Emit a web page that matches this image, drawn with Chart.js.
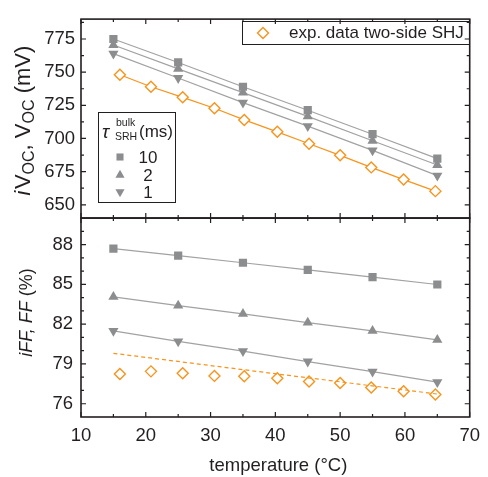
<!DOCTYPE html>
<html>
<head>
<meta charset="utf-8">
<script src="https://cdn.jsdelivr.net/npm/chart.js@4.4.1/dist/chart.umd.min.js"></script>
<style>
  html, body { margin: 0; padding: 0; background: #fff; }
  #wrap { width: 488px; height: 477px; position: relative; }
</style>
</head>
<body>
<div id="wrap"><canvas id="tempChart" width="488" height="477"></canvas></div>
<script>
// data
const temps = [15, 25, 35, 45, 55, 65];
const expTemps = [16.0, 20.8, 25.7, 30.6, 35.2, 40.3, 45.2, 50.0, 54.8, 59.8, 64.7];

const voc10 = [775, 757.3, 739, 721.3, 703.2, 684.8];
const voc2 = [770.5, 752.5, 734.6, 716.7, 698.3, 680];
const voc1 = [764, 745.6, 727, 709.3, 691, 672];
const vocExp = [748, 739, 731, 722.8, 714, 705, 696, 687.3, 678.2, 669, 660.3];

const ff10 = [87.7, 87.17, 86.63, 86.09, 85.55, 84.99];
const ff2 = [84.06, 83.4, 82.78, 82.12, 81.5, 80.82];
const ff1 = [81.49, 80.7, 79.96, 79.18, 78.42, 77.63];
const ffExp = [78.25, 78.44, 78.3, 78.1, 78.08, 77.93, 77.68, 77.56, 77.22, 76.95, 76.7];
const ffFitTemps = [15, 65];
const ffExpFit = [79.8, 76.73];

const xTicks = [10, 20, 30, 40, 50, 60, 70];
const vocTicks = [650, 675, 700, 725, 750, 775];
const ffTicks = [76, 79, 82, 85, 88];

const tauLabels = ['10', '2', '1'];
const expLabel = 'exp. data two-side SHJ';

// colours
const GREY = '#8c8d8f';
const GREY_LINE = '#a2a2a2';
const ORANGE = '#f7941d';
const INK = '#231f20';
const FONT = 'Liberation Sans';

const pts = (xs, ys) => xs.map((x, i) => ({ x: x, y: ys[i] }));

function simSet(xs, ys, axis, style, rot) {
    return {
        data: pts(xs, ys), yAxisID: axis, showLine: true,
        borderColor: GREY_LINE, borderWidth: 1.2,
        pointStyle: style, rotation: rot || 0, pointRadius: style === 'rect' ? 5.8 : 5.9,
        pointBackgroundColor: GREY, pointBorderColor: GREY, pointBorderWidth: 0
    };
}

const datasets = [
    simSet(temps, voc10, 'yV', 'rect'),
    simSet(temps, voc2, 'yV', 'triangle'),
    simSet(temps, voc1, 'yV', 'triangle', 180),
    {
        data: pts(expTemps, vocExp), yAxisID: 'yV', showLine: true,
        borderColor: ORANGE, borderWidth: 1.2,
        pointStyle: 'rectRot', pointRadius: 5.5,
        pointBackgroundColor: '#fff', pointBorderColor: ORANGE, pointBorderWidth: 1.4
    },
    simSet(temps, ff10, 'yF', 'rect'),
    simSet(temps, ff2, 'yF', 'triangle'),
    simSet(temps, ff1, 'yF', 'triangle', 180),
    {
        data: pts(ffFitTemps, ffExpFit), yAxisID: 'yF', showLine: true,
        borderColor: ORANGE, borderWidth: 1.2, borderDash: [4, 3], pointRadius: 0
    },
    {
        data: pts(expTemps, ffExp), yAxisID: 'yF', showLine: false,
        pointStyle: 'rectRot', pointRadius: 5.5,
        pointBackgroundColor: '#fff', pointBorderColor: ORANGE, pointBorderWidth: 1.4
    }
];

// text pieces drawn one after another (for italics / sub- and superscripts)
function drawRuns(ctx, runs, x, y) {
    let w = 0;
    runs.forEach(r => { ctx.font = r.f; w += ctx.measureText(r.t).width + (r.gap || 0); });
    let cx = x - w / 2;
    runs.forEach(r => {
        ctx.font = r.f;
        ctx.fillText(r.t, cx, y + (r.dy || 0));
        cx += ctx.measureText(r.t).width + (r.gap || 0);
    });
}

const framePlugin = {
    id: 'frame',
    afterDatasetsDraw(chart) {
        const ctx = chart.ctx;
        const x = chart.scales.x, yV = chart.scales.yV, yF = chart.scales.yF;
        const L = x.left, R = x.right;
        ctx.save();
        ctx.strokeStyle = INK;
        ctx.fillStyle = INK;

        // inward ticks
        ctx.lineWidth = 1.2;
        ctx.beginPath();
        [yV, yF].forEach(s => {
            for (let v = 10; v <= 70; v += 5) {
                const px = x.getPixelForValue(v);
                const len = v % 10 === 0 ? 5 : 3;
                ctx.moveTo(px, s.top); ctx.lineTo(px, s.top + len);
                ctx.moveTo(px, s.bottom); ctx.lineTo(px, s.bottom - len);
            }
        });
        const yTick = (s, v, len) => {
            const py = s.getPixelForValue(v);
            ctx.moveTo(L, py); ctx.lineTo(L + len, py);
            ctx.moveTo(R, py); ctx.lineTo(R - len, py);
        };
        for (let v = 637.5; v <= 790; v += 12.5) {
            if (v > 640 && v < 790) yTick(yV, v, vocTicks.includes(v) ? 5 : 3);
        }
        for (let v = 76; v < 90; v += 1) {
            yTick(yF, v, ffTicks.includes(v) ? 5 : 3);
        }
        ctx.stroke();

        // frames
        ctx.lineWidth = 1.6;
        [yV, yF].forEach(s => ctx.strokeRect(L, s.top, R - L, s.bottom - s.top));

        // axis titles
        ctx.textBaseline = 'alphabetic';
        ctx.textAlign = 'left';
        ctx.save();
        ctx.translate(30, (yV.top + yV.bottom) / 2 + 2);
        ctx.rotate(-Math.PI / 2);
        drawRuns(ctx, [
            { t: 'i', f: 'italic 22px ' + FONT, gap: 1.5 },
            { t: 'V', f: '22px ' + FONT },
            { t: 'OC', f: '16px ' + FONT, dy: 4 },
            { t: ', V', f: '22px ' + FONT },
            { t: 'OC', f: '16px ' + FONT, dy: 4 },
            { t: ' (mV)', f: '22px ' + FONT }
        ], 0, 0);
        ctx.restore();

        ctx.save();
        ctx.translate(32, (yF.top + yF.bottom) / 2 - 5);
        ctx.rotate(-Math.PI / 2);
        drawRuns(ctx, [
            { t: 'iFF, FF', f: 'italic 18px ' + FONT },
            { t: ' (%)', f: '18px ' + FONT }
        ], 0, 0);
        ctx.restore();

        drawRuns(ctx, [{ t: 'temperature (°C)', f: '18.5px ' + FONT }], (L + R) / 2 + 3, 471);

        // legend: experiment
        ctx.lineWidth = 1;
        ctx.strokeStyle = INK;
        ctx.strokeRect(242.5, 21.5, 227, 23);
        ctx.fillStyle = '#fff';
        ctx.strokeStyle = ORANGE;
        ctx.lineWidth = 1.4;
        Chart.helpers.drawPoint(ctx, { pointStyle: 'rectRot', radius: 5.5, borderWidth: 1.4 }, 263, 33);
        ctx.fillStyle = INK;
        ctx.font = '17px ' + FONT;
        ctx.textBaseline = 'middle';
        ctx.fillText(expLabel, 289, 33);

        // legend: bulk lifetime
        ctx.strokeStyle = INK;
        ctx.lineWidth = 1;
        ctx.strokeRect(98.5, 112.5, 77, 90);
        ctx.textBaseline = 'alphabetic';
        ctx.font = 'italic 19px ' + FONT;
        ctx.fillText('τ', 102, 138);
        ctx.font = '10.5px ' + FONT;
        ctx.fillText('bulk', 116, 126);
        ctx.fillText('SRH', 115, 140);
        ctx.font = '17px ' + FONT;
        ctx.fillText('(ms)', 139, 137);
        const marks = [['rect', 0, 5], ['triangle', 0, 5.3], ['triangle', 180, 5.3]];
        const rows = [157, 175, 192];
        ctx.fillStyle = GREY;
        marks.forEach((m, i) => {
            Chart.helpers.drawPoint(ctx, { pointStyle: m[0], rotation: m[1], radius: m[2], borderWidth: 0 }, 120, rows[i]);
        });
        ctx.fillStyle = INK;
        ctx.textAlign = 'center';
        ctx.textBaseline = 'middle';
        tauLabels.forEach((t, i) => ctx.fillText(t, 148, rows[i] + 1));
        ctx.restore();
    }
};

const tickFont = { family: FONT, size: 18.5 };

new Chart(document.getElementById('tempChart'), {
    type: 'scatter',
    data: { datasets: datasets },
    options: {
        responsive: false,
        animation: false,
        layout: { padding: { top: 10, right: 10, left: 0, bottom: 0 } },
        plugins: { legend: { display: false }, tooltip: { enabled: false } },
        scales: {
            x: {
                type: 'linear', min: 10, max: 70,
                grid: { display: false, drawTicks: false },
                border: { display: false },
                ticks: { font: tickFont, color: INK, padding: 8, autoSkip: false, maxRotation: 0 },
                afterBuildTicks: s => { s.ticks = xTicks.map(v => ({ value: v })); },
                afterFit: s => { s.height = 60; }
            },
            yF: {
                type: 'linear', position: 'left', stack: 'panels', stackWeight: 1,
                min: 75, max: 90,
                grid: { display: false, drawTicks: false },
                border: { display: false },
                ticks: { font: tickFont, color: INK, padding: 8, autoSkip: false },
                afterBuildTicks: s => { s.ticks = ffTicks.map(v => ({ value: v })); },
                afterFit: s => { s.width = 81; }
            },
            yV: {
                type: 'linear', position: 'left', stack: 'panels', stackWeight: 1,
                min: 640, max: 790,
                grid: { display: false, drawTicks: false },
                border: { display: false },
                ticks: { font: tickFont, color: INK, padding: 6, autoSkip: false },
                afterBuildTicks: s => { s.ticks = vocTicks.map(v => ({ value: v })); },
                afterFit: s => { s.width = 81; }
            }
        }
    },
    plugins: [framePlugin]
});
</script>
</body>
</html>
